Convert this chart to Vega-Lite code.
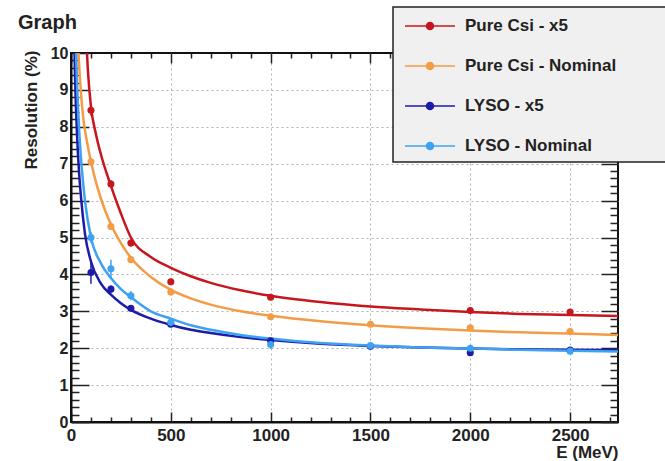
{
  "$schema": "https://vega.github.io/schema/vega-lite/v6.json",
  "width": 547,
  "height": 369,
  "autosize": {"type": "none"},
  "padding": {"left": 71, "top": 53, "right": 47, "bottom": 39},
  "background": "white",
  "title": {"text": "Graph", "anchor": "start", "frame": "group", "dx": -53, "dy": 69, "fontSize": 20, "font": "Liberation Sans", "fontWeight": "bold", "color": "#222", "baseline": "middle", "offset": 32},
  "config": {
    "view": {"stroke": "#111", "strokeWidth": 2},
    "font": "Liberation Sans"
  },
  "datasets": {
    "curves": [
      {"series": "Pure Csi - x5", "E": 78, "res": 10.2},
      {"series": "Pure Csi - x5", "E": 85, "res": 9.5},
      {"series": "Pure Csi - x5", "E": 100, "res": 8.55},
      {"series": "Pure Csi - x5", "E": 125, "res": 7.8},
      {"series": "Pure Csi - x5", "E": 150, "res": 7.25},
      {"series": "Pure Csi - x5", "E": 200, "res": 6.4},
      {"series": "Pure Csi - x5", "E": 250, "res": 5.65},
      {"series": "Pure Csi - x5", "E": 300, "res": 5.0},
      {"series": "Pure Csi - x5", "E": 400, "res": 4.47},
      {"series": "Pure Csi - x5", "E": 500, "res": 4.18},
      {"series": "Pure Csi - x5", "E": 600, "res": 3.95},
      {"series": "Pure Csi - x5", "E": 700, "res": 3.77},
      {"series": "Pure Csi - x5", "E": 850, "res": 3.57},
      {"series": "Pure Csi - x5", "E": 1000, "res": 3.42},
      {"series": "Pure Csi - x5", "E": 1250, "res": 3.25},
      {"series": "Pure Csi - x5", "E": 1500, "res": 3.13},
      {"series": "Pure Csi - x5", "E": 1750, "res": 3.05},
      {"series": "Pure Csi - x5", "E": 2000, "res": 2.98},
      {"series": "Pure Csi - x5", "E": 2250, "res": 2.93},
      {"series": "Pure Csi - x5", "E": 2500, "res": 2.9},
      {"series": "Pure Csi - x5", "E": 2740, "res": 2.87},
      {"series": "Pure Csi - Nominal", "E": 36, "res": 10.1},
      {"series": "Pure Csi - Nominal", "E": 45, "res": 9.3},
      {"series": "Pure Csi - Nominal", "E": 60, "res": 8.3},
      {"series": "Pure Csi - Nominal", "E": 80, "res": 7.6},
      {"series": "Pure Csi - Nominal", "E": 100, "res": 7.05},
      {"series": "Pure Csi - Nominal", "E": 125, "res": 6.5},
      {"series": "Pure Csi - Nominal", "E": 150, "res": 6.05},
      {"series": "Pure Csi - Nominal", "E": 200, "res": 5.35},
      {"series": "Pure Csi - Nominal", "E": 250, "res": 4.85},
      {"series": "Pure Csi - Nominal", "E": 300, "res": 4.45},
      {"series": "Pure Csi - Nominal", "E": 400, "res": 3.93},
      {"series": "Pure Csi - Nominal", "E": 500, "res": 3.58},
      {"series": "Pure Csi - Nominal", "E": 600, "res": 3.35},
      {"series": "Pure Csi - Nominal", "E": 700, "res": 3.18},
      {"series": "Pure Csi - Nominal", "E": 850, "res": 3.0},
      {"series": "Pure Csi - Nominal", "E": 1000, "res": 2.88},
      {"series": "Pure Csi - Nominal", "E": 1250, "res": 2.73},
      {"series": "Pure Csi - Nominal", "E": 1500, "res": 2.62},
      {"series": "Pure Csi - Nominal", "E": 1750, "res": 2.54},
      {"series": "Pure Csi - Nominal", "E": 2000, "res": 2.48},
      {"series": "Pure Csi - Nominal", "E": 2250, "res": 2.43},
      {"series": "Pure Csi - Nominal", "E": 2500, "res": 2.4},
      {"series": "Pure Csi - Nominal", "E": 2740, "res": 2.36},
      {"series": "LYSO - x5", "E": 17, "res": 10.2},
      {"series": "LYSO - x5", "E": 20, "res": 9.4},
      {"series": "LYSO - x5", "E": 25, "res": 8.5},
      {"series": "LYSO - x5", "E": 30, "res": 7.8},
      {"series": "LYSO - x5", "E": 40, "res": 6.8},
      {"series": "LYSO - x5", "E": 50, "res": 6.1},
      {"series": "LYSO - x5", "E": 70, "res": 5.1},
      {"series": "LYSO - x5", "E": 100, "res": 4.35},
      {"series": "LYSO - x5", "E": 150, "res": 3.75},
      {"series": "LYSO - x5", "E": 200, "res": 3.45},
      {"series": "LYSO - x5", "E": 250, "res": 3.22},
      {"series": "LYSO - x5", "E": 300, "res": 3.04},
      {"series": "LYSO - x5", "E": 400, "res": 2.8},
      {"series": "LYSO - x5", "E": 500, "res": 2.63},
      {"series": "LYSO - x5", "E": 600, "res": 2.5},
      {"series": "LYSO - x5", "E": 700, "res": 2.41},
      {"series": "LYSO - x5", "E": 850, "res": 2.3},
      {"series": "LYSO - x5", "E": 1000, "res": 2.22},
      {"series": "LYSO - x5", "E": 1250, "res": 2.12},
      {"series": "LYSO - x5", "E": 1500, "res": 2.06},
      {"series": "LYSO - x5", "E": 1750, "res": 2.02},
      {"series": "LYSO - x5", "E": 2000, "res": 1.99},
      {"series": "LYSO - x5", "E": 2250, "res": 1.97},
      {"series": "LYSO - x5", "E": 2500, "res": 1.96},
      {"series": "LYSO - x5", "E": 2740, "res": 1.95},
      {"series": "LYSO - Nominal", "E": 24, "res": 10.2},
      {"series": "LYSO - Nominal", "E": 30, "res": 9.2},
      {"series": "LYSO - Nominal", "E": 40, "res": 8.0},
      {"series": "LYSO - Nominal", "E": 50, "res": 7.15},
      {"series": "LYSO - Nominal", "E": 70, "res": 6.0},
      {"series": "LYSO - Nominal", "E": 100, "res": 5.0},
      {"series": "LYSO - Nominal", "E": 150, "res": 4.3},
      {"series": "LYSO - Nominal", "E": 200, "res": 3.9},
      {"series": "LYSO - Nominal", "E": 250, "res": 3.6},
      {"series": "LYSO - Nominal", "E": 300, "res": 3.38},
      {"series": "LYSO - Nominal", "E": 400, "res": 3.0},
      {"series": "LYSO - Nominal", "E": 500, "res": 2.8},
      {"series": "LYSO - Nominal", "E": 600, "res": 2.62},
      {"series": "LYSO - Nominal", "E": 700, "res": 2.5},
      {"series": "LYSO - Nominal", "E": 850, "res": 2.36},
      {"series": "LYSO - Nominal", "E": 1000, "res": 2.26},
      {"series": "LYSO - Nominal", "E": 1250, "res": 2.14},
      {"series": "LYSO - Nominal", "E": 1500, "res": 2.07},
      {"series": "LYSO - Nominal", "E": 1750, "res": 2.02},
      {"series": "LYSO - Nominal", "E": 2000, "res": 1.99},
      {"series": "LYSO - Nominal", "E": 2250, "res": 1.96},
      {"series": "LYSO - Nominal", "E": 2500, "res": 1.93},
      {"series": "LYSO - Nominal", "E": 2740, "res": 1.91}
    ],
    "points": [
      {"series": "Pure Csi - x5", "E": 100, "res": 8.45, "err": 0.15},
      {"series": "Pure Csi - x5", "E": 200, "res": 6.45, "err": 0.1},
      {"series": "Pure Csi - x5", "E": 300, "res": 4.85, "err": 0.1},
      {"series": "Pure Csi - x5", "E": 500, "res": 3.8, "err": 0.08},
      {"series": "Pure Csi - x5", "E": 1000, "res": 3.38, "err": 0.05},
      {"series": "Pure Csi - x5", "E": 2000, "res": 3.02, "err": 0.08},
      {"series": "Pure Csi - x5", "E": 2500, "res": 2.98, "err": 0.08},
      {"series": "Pure Csi - Nominal", "E": 100, "res": 7.05, "err": 0.1},
      {"series": "Pure Csi - Nominal", "E": 200, "res": 5.3, "err": 0.1},
      {"series": "Pure Csi - Nominal", "E": 300, "res": 4.4, "err": 0.08},
      {"series": "Pure Csi - Nominal", "E": 500, "res": 3.52, "err": 0.08},
      {"series": "Pure Csi - Nominal", "E": 1000, "res": 2.85, "err": 0.06},
      {"series": "Pure Csi - Nominal", "E": 1500, "res": 2.65, "err": 0.06},
      {"series": "Pure Csi - Nominal", "E": 2000, "res": 2.55, "err": 0.06},
      {"series": "Pure Csi - Nominal", "E": 2500, "res": 2.45, "err": 0.06},
      {"series": "LYSO - x5", "E": 100, "res": 4.05, "err": 0.3},
      {"series": "LYSO - x5", "E": 200, "res": 3.6, "err": 0.1},
      {"series": "LYSO - x5", "E": 300, "res": 3.08, "err": 0.05},
      {"series": "LYSO - x5", "E": 500, "res": 2.65, "err": 0.05},
      {"series": "LYSO - x5", "E": 1000, "res": 2.2, "err": 0.05},
      {"series": "LYSO - x5", "E": 1500, "res": 2.05, "err": 0.05},
      {"series": "LYSO - x5", "E": 2000, "res": 1.88, "err": 0.06},
      {"series": "LYSO - x5", "E": 2500, "res": 1.95, "err": 0.05},
      {"series": "LYSO - Nominal", "E": 100, "res": 5.0, "err": 0.15},
      {"series": "LYSO - Nominal", "E": 200, "res": 4.15, "err": 0.25},
      {"series": "LYSO - Nominal", "E": 300, "res": 3.42, "err": 0.12},
      {"series": "LYSO - Nominal", "E": 500, "res": 2.7, "err": 0.08},
      {"series": "LYSO - Nominal", "E": 1000, "res": 2.1, "err": 0.12},
      {"series": "LYSO - Nominal", "E": 1500, "res": 2.07, "err": 0.05},
      {"series": "LYSO - Nominal", "E": 2000, "res": 2.0, "err": 0.06},
      {"series": "LYSO - Nominal", "E": 2500, "res": 1.92, "err": 0.05}
    ]
  },
  "layer": [
    {
      "data": {"name": "curves"},
      "mark": {"type": "line", "strokeWidth": 2.5, "clip": true, "interpolate": "monotone"},
      "encoding": {
        "x": {"field": "E", "type": "quantitative",
          "scale": {"domain": [0, 2740], "nice": false, "zero": false},
          "axis": {"orient": "bottom",
            "values": [0,100,200,300,400,500,600,700,800,900,1000,1100,1200,1300,1400,1500,1600,1700,1800,1900,2000,2100,2200,2300,2400,2500,2600,2700],
            "format": "d",
            "labelExpr": "datum.value % 500 === 0 ? datum.label : ''",
            "labelOverlap": false, "labelFlush": false,
            "tickSize": {"condition": {"test": "datum.value % 500 === 0", "value": -10}, "value": -5},
            "tickWidth": 1.5, "tickColor": "#222",
            "labelFontSize": 17, "labelFont": "Liberation Sans", "labelFontWeight": "bold", "labelColor": "#222", "labelPadding": 15,
            "grid": true, "gridDash": [2, 3], "gridColor": "#b0b0b0",
            "gridOpacity": {"condition": {"test": "datum.value % 500 === 0 && datum.value > 0", "value": 1}, "value": 0},
            "domain": true, "domainColor": "#111", "domainWidth": 2,
            "title": "E (MeV)", "titleFont": "Liberation Sans", "titleFontSize": 17, "titleFontWeight": "bold", "titleColor": "#222",
            "titleAnchor": "end", "titleAlign": "right", "titleX": 547, "titleY": 30, "titleBaseline": "middle"}},
        "y": {"field": "res", "type": "quantitative",
          "scale": {"domain": [0, 10], "nice": false},
          "axis": {"orient": "left",
            "values": [0,0.2,0.4,0.6,0.8,1,1.2,1.4,1.6,1.8,2,2.2,2.4,2.6,2.8,3,3.2,3.4,3.6,3.8,4,4.2,4.4,4.6,4.8,5,5.2,5.4,5.6,5.8,6,6.2,6.4,6.6,6.8,7,7.2,7.4,7.6,7.8,8,8.2,8.4,8.6,8.8,9,9.2,9.4,9.6,9.8,10],
            "labelExpr": "abs(datum.value - round(datum.value)) < 0.001 ? format(round(datum.value), 'd') : ''",
            "labelOverlap": false, "labelFlush": false,
            "tickSize": {"condition": {"test": "abs(datum.value - round(datum.value)) < 0.001", "value": -18}, "value": -8},
            "tickWidth": 1.5, "tickColor": "#222",
            "labelFontSize": 16, "labelFont": "Liberation Sans", "labelFontWeight": "bold", "labelColor": "#222", "labelPadding": 21,
            "grid": true, "gridDash": [2, 3], "gridColor": "#b0b0b0",
            "gridOpacity": {"condition": {"test": "abs(datum.value - round(datum.value)) < 0.001 && datum.value > 0.5 && datum.value < 9.5", "value": 1}, "value": 0},
            "domain": true, "domainColor": "#111", "domainWidth": 2,
            "title": "Resolution (%)", "titleFont": "Liberation Sans", "titleFontSize": 17, "titleFontWeight": "bold", "titleColor": "#222",
            "titleAngle": 270, "titleAlign": "right", "titleBaseline": "middle", "titleX": -40, "titleY": -3}},
        "color": {"field": "series", "type": "nominal",
          "scale": {"domain": ["Pure Csi - x5", "Pure Csi - Nominal", "LYSO - x5", "LYSO - Nominal"], "range": ["#c8161e", "#f39c45", "#1c1ca8", "#3ea2f2"]},
          "legend": {"orient": "none", "legendX": 322, "legendY": -46,
            "title": "MMM", "titleOrient": "right", "titleColor": "transparent", "titleFontSize": 17, "titlePadding": 3,
            "fillColor": "#f0f0f0", "strokeColor": "#222", "padding": 8,
            "symbolType": "M-2.5,0H2.5M0.35,0A0.35,0.35,0,1,1,-0.35,0A0.35,0.35,0,1,1,0.35,0Z",
            "symbolSize": 400, "symbolStrokeWidth": 1.5, "symbolOffset": 18, "labelOffset": 24,
            "labelFontSize": 17, "labelFont": "Liberation Sans", "labelFontWeight": "bold", "labelColor": "#222",
            "rowPadding": 21, "labelLimit": 400,
            "encode": {
              "symbols": {"update": {"fill": {"scale": "color", "field": "value"}, "stroke": {"scale": "color", "field": "value"}, "opacity": {"value": 1}}},
              "legend": {"update": {"strokeWidth": {"value": 1.5}}}
            }}}
      }
    },
    {
      "data": {"name": "points"},
      "mark": {"type": "errorbar", "ticks": false, "thickness": 1.5},
      "encoding": {
        "x": {"field": "E", "type": "quantitative", "axis": null},
        "y": {"field": "res", "type": "quantitative", "axis": null},
        "yError": {"field": "err"},
        "color": {"field": "series", "type": "nominal"}
      }
    },
    {
      "data": {"name": "points"},
      "mark": {"type": "point", "filled": true, "size": 50, "opacity": 1},
      "encoding": {
        "x": {"field": "E", "type": "quantitative",
          "axis": {"orient": "top", "labels": false, "grid": false, "domain": false, "title": null,
            "values": [0,100,200,300,400,500,600,700,800,900,1000,1100,1200,1300,1400,1500,1600,1700,1800,1900,2000,2100,2200,2300,2400,2500,2600,2700],
            "tickSize": {"condition": {"test": "datum.value % 500 === 0", "value": -10}, "value": -5},
            "tickWidth": 1.5, "tickColor": "#222"}},
        "y": {"field": "res", "type": "quantitative",
          "axis": {"orient": "right", "labels": false, "grid": false, "domain": false, "title": null,
            "values": [0,0.2,0.4,0.6,0.8,1,1.2,1.4,1.6,1.8,2,2.2,2.4,2.6,2.8,3,3.2,3.4,3.6,3.8,4,4.2,4.4,4.6,4.8,5,5.2,5.4,5.6,5.8,6,6.2,6.4,6.6,6.8,7,7.2,7.4,7.6,7.8,8,8.2,8.4,8.6,8.8,9,9.2,9.4,9.6,9.8,10],
            "tickSize": {"condition": {"test": "abs(datum.value - round(datum.value)) < 0.001", "value": -17}, "value": -8},
            "tickWidth": 1.5, "tickColor": "#222"}},
        "color": {"field": "series", "type": "nominal"}
      }
    }
  ],
  "resolve": {"axis": {"x": "independent", "y": "independent"}}
}
